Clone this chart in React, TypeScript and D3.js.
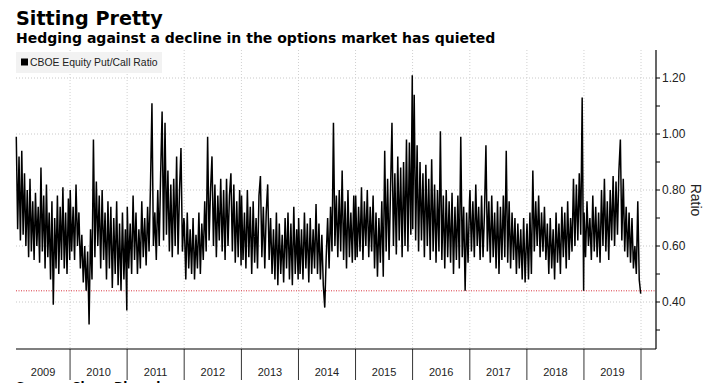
import React from 'react';
import * as d3 from 'd3';

// ---- Data ----
const years = [2009, 2010, 2011, 2012, 2013, 2014, 2015, 2016, 2017, 2018, 2019];

const ratio2009 = [0.99, 0.66, 0.92, 0.62, 0.94, 0.64, 0.86, 0.60, 0.80, 0.56, 0.84, 0.58, 0.76, 0.55, 0.79, 0.60, 0.74, 0.54, 0.88, 0.58, 0.78, 0.52, 0.82, 0.56, 0.72, 0.48, 0.76, 0.39, 0.70, 0.52, 0.78, 0.50, 0.74, 0.55, 0.81, 0.52, 0.72, 0.50, 0.77, 0.55];
const ratio2010 = [0.80, 0.58, 0.74, 0.55, 0.82, 0.60, 0.72, 0.52, 0.64, 0.47, 0.60, 0.44, 0.58, 0.32, 0.66, 0.48, 0.98, 0.56, 0.83, 0.60, 0.78, 0.52, 0.80, 0.55, 0.72, 0.48, 0.76, 0.52, 0.74, 0.45, 0.70, 0.50, 0.76, 0.46, 0.68, 0.44, 0.72, 0.48, 0.66, 0.37];
const ratio2011 = [0.74, 0.52, 0.68, 0.50, 0.78, 0.55, 0.72, 0.50, 0.66, 0.52, 0.76, 0.56, 0.70, 0.53, 0.74, 0.58, 0.82, 1.11, 0.60, 0.72, 0.55, 0.80, 0.60, 0.86, 1.08, 0.62, 1.04, 0.64, 0.87, 0.58, 0.82, 0.56, 0.84, 0.60, 0.92, 0.57, 0.80, 0.95, 0.58, 0.70];
const ratio2012 = [0.68, 0.48, 0.72, 0.52, 0.66, 0.50, 0.70, 0.48, 0.64, 0.52, 0.72, 0.50, 0.68, 0.55, 0.76, 0.58, 0.99, 0.62, 0.80, 0.92, 0.60, 0.82, 0.56, 0.78, 0.62, 0.84, 0.58, 0.80, 0.55, 0.84, 0.60, 0.78, 0.86, 0.58, 0.82, 0.54, 0.76, 0.56, 0.80, 0.53];
const ratio2013 = [0.78, 0.55, 0.72, 0.52, 0.80, 0.56, 0.74, 0.50, 0.76, 0.54, 0.70, 0.52, 0.78, 0.85, 0.56, 0.74, 0.52, 0.72, 0.82, 0.55, 0.70, 0.50, 0.66, 0.48, 0.72, 0.46, 0.68, 0.50, 0.64, 0.47, 0.70, 0.52, 0.72, 0.48, 0.68, 0.46, 0.74, 0.50, 0.66, 0.48];
const ratio2014 = [0.70, 0.50, 0.66, 0.48, 0.72, 0.52, 0.68, 0.47, 0.70, 0.50, 0.66, 0.52, 0.75, 0.50, 0.68, 0.48, 0.64, 0.46, 0.38, 0.56, 0.70, 0.52, 0.74, 0.58, 1.04, 0.60, 0.78, 0.56, 0.80, 0.58, 0.87, 0.55, 0.76, 0.52, 0.80, 0.56, 0.72, 0.54, 0.78, 0.55];
const ratio2015 = [0.78, 0.56, 0.74, 0.58, 0.81, 0.55, 0.76, 0.60, 0.80, 0.56, 0.74, 0.58, 0.78, 0.52, 0.72, 0.49, 0.70, 0.54, 0.76, 0.49, 0.94, 0.58, 0.84, 0.55, 0.80, 1.04, 0.60, 0.86, 0.57, 0.92, 0.62, 0.88, 0.56, 0.90, 0.60, 0.98, 0.58, 0.97, 0.64, 1.21];
const ratio2016 = [0.66, 1.14, 0.62, 0.96, 0.58, 0.90, 0.62, 0.86, 0.56, 0.89, 0.60, 0.84, 0.55, 0.91, 0.58, 0.82, 0.54, 0.80, 0.58, 1.01, 0.55, 0.78, 0.52, 0.80, 0.56, 0.76, 0.54, 0.79, 0.50, 0.74, 0.55, 0.78, 0.52, 0.99, 0.56, 0.74, 0.44, 0.72, 0.54, 0.76];
const ratio2017 = [0.80, 0.58, 0.76, 0.56, 0.82, 0.60, 0.74, 0.55, 0.78, 0.56, 0.72, 0.96, 0.58, 0.76, 0.54, 0.78, 0.56, 0.72, 0.52, 0.76, 0.50, 0.74, 0.55, 0.78, 0.56, 0.94, 0.54, 0.76, 0.52, 0.72, 0.55, 0.70, 0.50, 0.68, 0.52, 0.66, 0.48, 0.70, 0.47, 0.64];
const ratio2018 = [0.68, 0.48, 0.72, 0.50, 0.87, 0.58, 0.76, 0.60, 0.78, 0.56, 0.72, 0.58, 0.74, 0.55, 0.68, 0.50, 0.70, 0.52, 0.66, 0.48, 0.72, 0.54, 0.68, 0.50, 0.74, 0.56, 0.72, 0.52, 0.76, 0.55, 0.70, 0.58, 0.84, 0.60, 0.82, 0.62, 0.86, 0.64, 1.13, 0.44];
const ratio2019 = [0.72, 0.56, 0.76, 0.60, 0.70, 0.55, 0.78, 0.58, 0.74, 0.56, 0.72, 0.54, 0.80, 0.60, 0.84, 0.58, 0.76, 0.55, 0.80, 0.62, 0.85, 0.60, 0.83, 0.64, 0.87, 0.98, 0.62, 0.84, 0.58, 0.74, 0.56, 0.72, 0.54, 0.70, 0.52, 0.60, 0.50, 0.76, 0.48, 0.43];

const ratioByYear = [ratio2009, ratio2010, ratio2011, ratio2012, ratio2013, ratio2014, ratio2015, ratio2016, ratio2017, ratio2018, ratio2019];

const yMajorTicks = [0.4, 0.6, 0.8, 1.0, 1.2];
const yMinorTicks = [0.3, 0.5, 0.7, 0.9, 1.1];
const referenceLevel = 0.44;

const title = 'Sitting Pretty';
const subtitle = 'Hedging against a decline in the options market has quieted';
const legendLabel = 'CBOE Equity Put/Call Ratio';
const axisTitle = 'Ratio';
const sourceText = 'Source: Cboe, Bloomberg';

type Pt = { date: Date; value: number };

export default function App() {
  const W = 715;
  const H = 383;
  const plotLeft = 16;
  const plotRight = 656;
  const plotTop = 50;
  const plotBottom = 349;

  const x = d3.scaleTime()
    .domain([new Date(2009, 0, 1), new Date(2020, 0, 1)])
    .range([13, 641]);
  const y = d3.scaleLinear().domain([0.4, 1.2]).range([302, 78]);

  const data: Pt[] = [];
  years.forEach((yr, k) => {
    const arr = ratioByYear[k];
    const start = yr === 2009 ? new Date(2009, 0, 22).getTime() : new Date(yr, 0, 2).getTime();
    const end = new Date(yr, 11, 30).getTime();
    arr.forEach((v, i) => {
      data.push({ date: new Date(start + (i / (arr.length - 1)) * (end - start)), value: v });
    });
  });

  const line = d3.line<Pt>().x(d => x(d.date)).y(d => y(d.value));

  const boundaries = [...years.slice(1), 2020].map(yr => x(new Date(yr, 0, 1)));
  const labelFont = '"Liberation Sans", Arial, sans-serif';

  return (
    <svg width={W} height={H} style={{ position: 'absolute', left: 0, top: 0, background: '#fff' }}>
      <rect x={0} y={0} width={W} height={H} fill="#fff" />
      {/* titles */}
      <text x={16} y={25} fontFamily='"DejaVu Sans", sans-serif' fontWeight="bold" fontSize={19.2} fill="#000">{title}</text>
      <text x={16} y={43} fontFamily='"DejaVu Sans", sans-serif' fontWeight="bold" fontSize={14} fill="#000">{subtitle}</text>

      {/* gridlines */}
      {yMajorTicks.map(t => (
        <line key={'hg' + t} x1={plotLeft} x2={plotRight} y1={y(t)} y2={y(t)} stroke="#c8c8c8" strokeWidth={1} strokeDasharray="1,2" />
      ))}
      {boundaries.map((bx, i) => (
        <line key={'vg' + i} x1={bx} x2={bx} y1={plotTop} y2={plotBottom} stroke="#d0d0d0" strokeWidth={1} strokeDasharray="1,2" />
      ))}

      {/* legend */}
      <rect x={16} y={52} width={146} height={21} fill="#f2f2f2" />
      <rect x={21} y={58.5} width={7} height={7} fill="#000" />
      <text x={30} y={66} fontFamily={labelFont} fontSize={10.4} fill="#222">{legendLabel}</text>

      {/* reference line */}
      <line x1={plotLeft} x2={plotRight} y1={y(referenceLevel)} y2={y(referenceLevel)} stroke="#d9343f" strokeWidth={1} strokeDasharray="1,1.5" />

      {/* series */}
      <path d={line(data) || ''} fill="none" stroke="#000" strokeWidth={1.5} strokeLinejoin="miter" strokeMiterlimit={2} />

      {/* right axis */}
      <line x1={plotRight} x2={plotRight} y1={plotTop} y2={plotBottom} stroke="#000" strokeWidth={1.2} />
      {yMajorTicks.map(t => (
        <g key={'yt' + t}>
          <line x1={plotRight} x2={plotRight + 4} y1={y(t)} y2={y(t)} stroke="#000" strokeWidth={1} />
          <text x={plotRight + 6} y={y(t) + 4.3} fontFamily={labelFont} fontSize={12} fill="#222">{d3.format('.2f')(t)}</text>
        </g>
      ))}
      {yMinorTicks.map(t => (
        <line key={'ym' + t} x1={plotRight} x2={plotRight + 4} y1={y(t)} y2={y(t)} stroke="#000" strokeWidth={1} />
      ))}
      <text transform={`translate(691,200) rotate(90)`} textAnchor="middle" fontFamily={labelFont} fontSize={14} fill="#222">{axisTitle}</text>

      {/* bottom axis */}
      <line x1={plotLeft} x2={plotRight} y1={plotBottom} y2={plotBottom} stroke="#000" strokeWidth={1.2} />
      {boundaries.map((bx, i) => (
        <line key={'xt' + i} x1={bx} x2={bx} y1={plotBottom} y2={380} stroke="#000" strokeWidth={0.8} />
      ))}
      {years.map((yr) => {
        const a = Math.max(plotLeft, x(new Date(yr, 0, 1)));
        const b = x(new Date(yr + 1, 0, 1));
        return (
          <text key={'xl' + yr} x={(a + b) / 2} y={376} textAnchor="middle" fontFamily={labelFont} fontSize={11} fill="#222">{yr}</text>
        );
      })}

      {/* source line, clipped at the bottom edge as in the reference */}
      <text x={16} y={391} fontFamily='"DejaVu Sans", sans-serif' fontWeight="bold" fontSize={12} fill="#000">{sourceText}</text>
    </svg>
  );
}
